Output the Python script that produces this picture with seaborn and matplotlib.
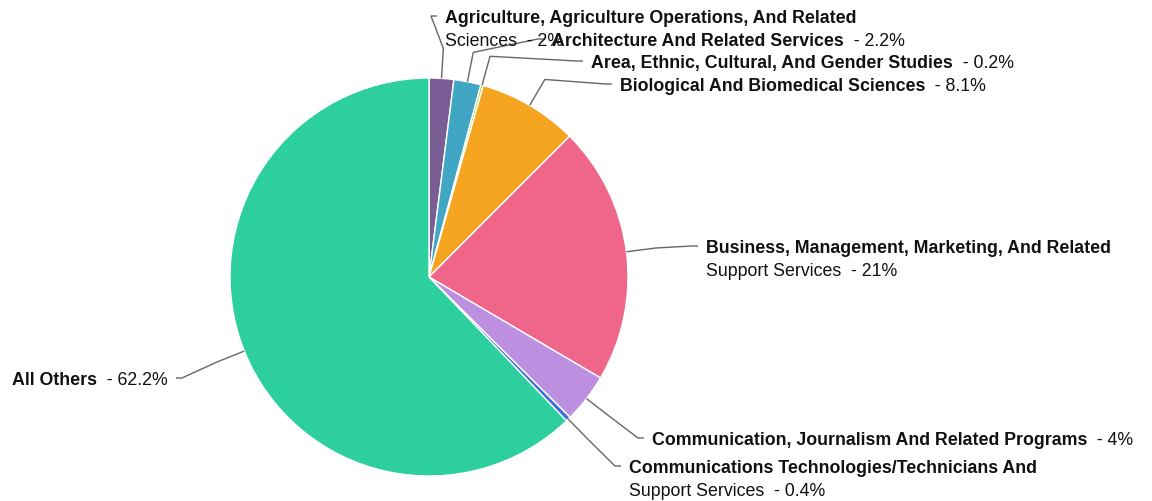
import textwrap
import numpy as np
import seaborn as sns
import matplotlib
matplotlib.use("Agg")
import matplotlib.pyplot as plt

# data
categories = [
    "Agriculture, Agriculture Operations, And Related Sciences",
    "Architecture And Related Services",
    "Area, Ethnic, Cultural, And Gender Studies",
    "Biological And Biomedical Sciences",
    "Business, Management, Marketing, And Related Support Services",
    "Communication, Journalism And Related Programs",
    "Communications Technologies/Technicians And Support Services",
    "All Others",
]
shares = [2, 2.2, 0.2, 8.1, 21, 4, 0.4, 62.2]
colors = ["#7b5d96", "#41a5c4", "#b7d432", "#f5a51f", "#f0668a",
          "#bd8fe0", "#3a6ee0", "#2ecf9e"]

# layout: where each label starts (pixels from top-left), right side flag
label_xy = [(445, 17), (552, 40), (591, 62), (620, 85),
            (706, 247), (652, 439), (629, 467), (168, 379)]
label_right = [True] * 7 + [False]

W, H = 1152, 502
CX, CY, R = 429, 278, 199
LINE_H = 23
TXT_DY = 1.5

sns.set_theme(style="white")
plt.rcParams["font.family"] = ["Liberation Sans", "DejaVu Sans"]

fig = plt.figure(figsize=(W / 100, H / 100), dpi=100)
ax = fig.add_axes([0, 0, 1, 1])

wedges, _ = ax.pie(shares, colors=colors, startangle=-90, counterclock=True,
                   center=(CX, CY), radius=R,
                   wedgeprops=dict(edgecolor="white", linewidth=1))
ax.set_xlim(0, W)
ax.set_ylim(H, 0)
ax.set_aspect("equal")
ax.axis("off")

fs = 12.8
txt_col = "#111111"
line_col = "#666666"

for w, name, val, (tx, ty), right in zip(wedges, categories, shares, label_xy, label_right):
    mid = np.deg2rad((w.theta1 + w.theta2) / 2)
    dx, dy = np.cos(mid), np.sin(mid)
    p0 = (CX + R * dx, CY + R * dy)
    p1 = (CX + (R + 30) * dx, CY + (R + 30) * dy)
    if right:
        p2, p3 = (tx - 14, ty), (tx - 8, ty)
    else:
        p2, p3 = (tx + 14, ty), (tx + 8, ty)
    ax.plot([p0[0], p1[0], p2[0], p3[0]], [p0[1], p1[1], p2[1], p3[1]],
            color=line_col, lw=1, solid_capstyle="butt")

    lines = textwrap.wrap(name, 48)
    pct = "  - " + f"{val:g}%"
    ty = ty + TXT_DY
    if right:
        bold = ax.text(tx, ty, lines[0], fontsize=fs, fontweight="bold",
                       color=txt_col, ha="left", va="center")
        if len(lines) > 1:
            ax.text(tx, ty + LINE_H, " ".join(lines[1:]) + pct, fontsize=fs,
                    color=txt_col, ha="left", va="center")
        else:
            ax.annotate(pct, xy=(1, 0.5), xycoords=bold, fontsize=fs,
                        color=txt_col, ha="left", va="center")
    else:
        norm = ax.text(tx, ty, pct, fontsize=fs, color=txt_col,
                       ha="right", va="center")
        ax.annotate(lines[0], xy=(0, 0.5), xycoords=norm, fontsize=fs,
                    fontweight="bold", color=txt_col, ha="right", va="center")

fig.savefig("out.png", dpi=100, facecolor="white")
